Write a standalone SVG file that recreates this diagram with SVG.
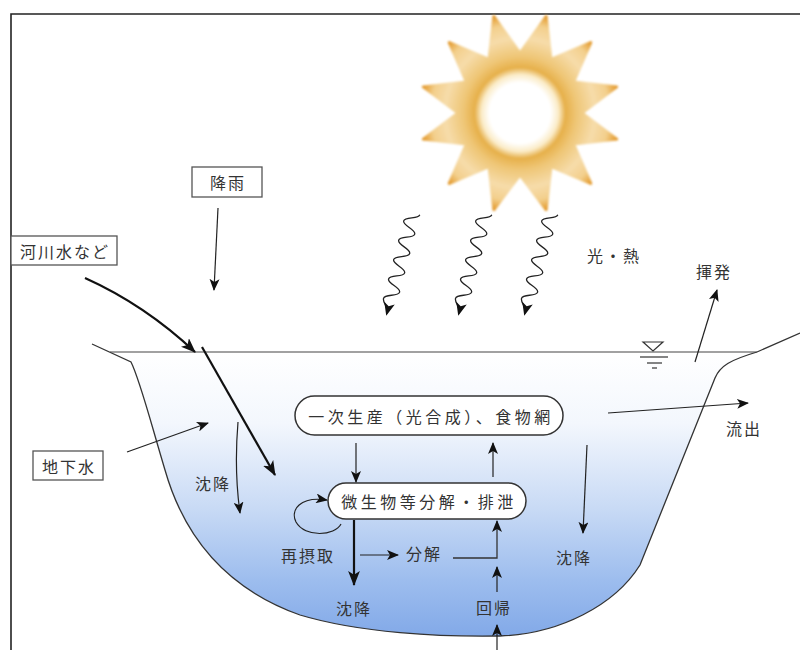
<svg xmlns="http://www.w3.org/2000/svg" xmlns:xlink="http://www.w3.org/1999/xlink" width="800" height="650" viewBox="0 0 800 650">
  <style>
    text { font-family: "Noto Sans CJK JP", "Noto Sans CJK SC", sans-serif; font-size: 16px; fill: #333; text-anchor: middle; dominant-baseline: central; }
    .lbl { letter-spacing: 2px; }
    .node-text { letter-spacing: 3.5px; }
    .box { fill: #fff; stroke: #555; stroke-width: 1.3; }
    .pill { fill: #fff; stroke: #333; stroke-width: 1.5; }
    .thin { fill: none; stroke: #222; stroke-width: 1.2; marker-end: url(#ah); }
    .thick { fill: none; stroke: #111; stroke-width: 2.2; marker-end: url(#ahBig); }
    .plain { fill: none; stroke: #333; stroke-width: 1.3; }
    .wave { fill: none; stroke: #222; stroke-width: 1.3; marker-end: url(#ahWave); }
  </style>
  <defs>
    <marker id="ah" viewBox="0 0 12 10" refX="11" refY="5" markerWidth="12" markerHeight="10" markerUnits="userSpaceOnUse" orient="auto">
      <path d="M0,0 L12,5 L0,10 L3,5 Z" fill="#111"/>
    </marker>
    <marker id="ahBig" viewBox="0 0 14 11" refX="13" refY="5.5" markerWidth="15" markerHeight="12" markerUnits="userSpaceOnUse" orient="auto">
      <path d="M0,0 L14,5.5 L0,11 L3.5,5.5 Z" fill="#111"/>
    </marker>
    <marker id="ahWave" viewBox="0 0 12 10" refX="10" refY="5" markerWidth="13" markerHeight="11" markerUnits="userSpaceOnUse" orient="auto">
      <path d="M0,0 L12,5 L0,10 L3,5 Z" fill="#111"/>
    </marker>
    <radialGradient id="sunGrad" gradientUnits="userSpaceOnUse" cx="520" cy="113" r="101">
      <stop offset="0" stop-color="#ffffff"/>
      <stop offset="0.30" stop-color="#ffffff"/>
      <stop offset="0.38" stop-color="#fbecc8"/>
      <stop offset="0.45" stop-color="#e6b04a"/>
      <stop offset="0.56" stop-color="#efc676"/>
      <stop offset="0.74" stop-color="#f6dcaa"/>
      <stop offset="0.88" stop-color="#f3cf8c"/>
      <stop offset="1" stop-color="#e29524"/>
    </radialGradient>
    <linearGradient id="waterGrad" x1="0" y1="352" x2="0" y2="637" gradientUnits="userSpaceOnUse">
      <stop offset="0" stop-color="#ffffff"/>
      <stop offset="0.25" stop-color="#f3f7fd"/>
      <stop offset="0.55" stop-color="#c8daf5"/>
      <stop offset="0.8" stop-color="#9dbdee"/>
      <stop offset="1" stop-color="#82a9e8"/>
    </linearGradient>
    <filter id="soft" x="-10%" y="-10%" width="120%" height="120%">
      <feGaussianBlur stdDeviation="0.8"/>
    </filter>
    <!-- one squiggly light ray, drawn vertically from its top -->
    <path id="ray" d="M7,0 C7,5 -7,5 -7,10 C-7,15 7,15 7,20 C7,25 -7,25 -7,30 C-7,35 7,35 7,40 C7,45 -7,45 -7,50 C-7,55 7,55 7,60 C7,65 -7,65 -7,70 C-7,75 7,75 7,80 C7,85 -7,85 -7,90 C-7,95 0,96 0,104"/>
  </defs>

  <rect width="800" height="650" fill="#fff"/>

  <!-- outer frame (top and left edges) -->
  <path d="M11,650 L11,14 L800,14" fill="none" stroke="#222" stroke-width="1.6"/>

  <!-- water body -->
  <g id="water">
    <path d="M110,352 L131,362 C140,380 150,420 165,470 C185,540 230,590 300,615 C360,633 440,637 500,636 C560,634 615,605 640,565 L715,378 C720,366 730,360 757,352 Z" fill="url(#waterGrad)"/>
    <path d="M92,344 L131,362 C140,380 150,420 165,470 C185,540 230,590 300,615 C360,633 440,637 500,636 C560,634 615,605 640,565 L715,378 C720,366 730,360 757,352 L800,333" fill="none" stroke="#333" stroke-width="1.3"/>
    <line x1="110" y1="352" x2="757" y2="352" stroke="#444" stroke-width="1.2"/>
    <!-- water level mark -->
    <g id="level-mark" stroke="#333" stroke-width="1.2" fill="none">
      <path d="M643,342 L663,342 L653,351 Z"/>
      <line x1="640" y1="357" x2="668" y2="357"/>
      <line x1="647" y1="363" x2="662" y2="363"/>
      <line x1="652" y1="368" x2="657" y2="368"/>
    </g>
  </g>

  <!-- sun -->
  <g id="sun" filter="url(#soft)">
    <path d="M520,53 L546.1,16.5 L551,59.3 L590.7,42.6 L573.7,82 L616.6,86.9 L582,113 L616.6,139.1 L573.7,144 L590.7,183.4 L551,166.7 L546.1,209.5 L520,175 L493.9,209.5 L489,166.7 L449.3,183.4 L466.3,144 L423.4,139.1 L458,113 L423.4,86.9 L466.3,82 L449.3,42.6 L489,59.3 L493.9,16.5 Z" fill="url(#sunGrad)" stroke="url(#sunGrad)" stroke-width="3" stroke-linejoin="round"/>
  </g>

  <!-- labelled inputs and outputs -->
  <g id="rain">
    <rect class="box" x="192" y="167" width="70" height="30"/>
    <text class="lbl" x="228" y="182">降雨</text>
  </g>
  <g id="river">
    <rect class="box" x="11" y="236" width="106" height="29"/>
    <text class="lbl" x="65" y="251">河川水など</text>
  </g>
  <g id="groundwater">
    <rect class="box" x="33" y="451" width="70" height="29"/>
    <text class="lbl" x="69" y="466">地下水</text>
  </g>
  <g id="light-heat"><text class="lbl" x="614" y="255">光・熱</text></g>
  <g id="evaporation"><text class="lbl" x="714" y="271">揮発</text></g>
  <g id="outflow"><text class="lbl" x="744" y="428">流出</text></g>
  <g id="settle-left"><text class="lbl" x="213" y="483">沈降</text></g>
  <g id="settle-bottom"><text class="lbl" x="354" y="608">沈降</text></g>
  <g id="settle-right"><text class="lbl" x="574" y="557">沈降</text></g>
  <g id="reuptake"><text class="lbl" x="308" y="555">再摂取</text></g>
  <g id="decompose"><text class="lbl" x="424" y="553">分解</text></g>
  <g id="return"><text class="lbl" x="494" y="607">回帰</text></g>

  <!-- process nodes -->
  <g id="primary-production">
    <rect class="pill" x="295" y="396" width="268" height="39" rx="19.5"/>
    <text class="node-text" x="431" y="416">一次生産（光合成）、食物網</text>
  </g>
  <g id="microbial-decomposition">
    <rect class="pill" x="328" y="483" width="198" height="36" rx="18"/>
    <text class="node-text" x="429" y="501">微生物等分解・排泄</text>
  </g>

  <!-- connectors -->
  <g id="connectors">
    <!-- light rays -->
    <use xlink:href="#ray" transform="translate(413,213) rotate(14.6)" class="wave"/>
    <use xlink:href="#ray" transform="translate(485,213) rotate(14.6)" class="wave"/>
    <use xlink:href="#ray" transform="translate(551,213) rotate(14.6)" class="wave"/>

    <path class="thin" d="M218,208 L214,290"/>
    <path class="thick" d="M85,278 Q145,305 195,352"/>
    <path class="thick" d="M202,347 L275,475"/>
    <path class="thin" d="M127,452 L208,423"/>
    <path class="thin" d="M238,422 Q234,470 240,513"/>
    <path class="thin" d="M695,362 L717,290"/>
    <path class="thin" d="M608,413 L748,403"/>
    <path class="thin" d="M587,445 L583,533"/>

    <path class="thin" d="M356,443 L356,482"/>
    <path class="thin" d="M493,477 L493,443"/>
    <path class="thin" d="M341,524 C335,536 305,538 296,522 C290,510 300,496 327,500"/>
    <path class="thick" d="M354,520 L354,585"/>
    <path class="thin" d="M360,555 L398,555"/>
    <path class="plain" d="M453,558 L497,558 L497,530"/>
    <path class="thin" d="M497,530 L497,521"/>
    <path class="thin" d="M497,592 L497,567"/>
    <path class="thin" d="M497,650 L497,625"/>
  </g>
</svg>
